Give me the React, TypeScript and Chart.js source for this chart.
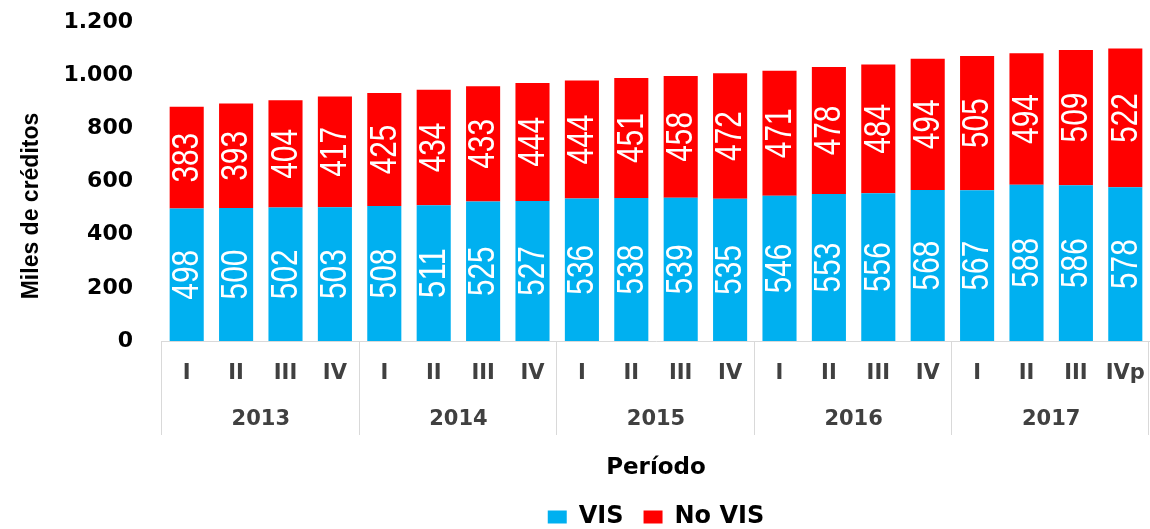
import React, { useEffect, useRef } from "react";
import { Chart, registerables } from "chart.js";

Chart.register(...registerables);

const quarters = ["I", "II", "III", "IV", "I", "II", "III", "IV", "I", "II", "III", "IV", "I", "II", "III", "IV", "I", "II", "III", "IVp"];
const years = ["2013", "2014", "2015", "2016", "2017"];
const visValues = [498, 500, 502, 503, 508, 511, 525, 527, 536, 538, 539, 535, 546, 553, 556, 568, 567, 588, 586, 578];
const noVisValues = [383, 393, 404, 417, 425, 434, 433, 444, 444, 451, 458, 472, 471, 478, 484, 494, 505, 494, 509, 522];
const seriesNames = ["VIS", "No VIS"];
const yTitle = "Miles de créditos";
const xTitle = "Período";

const AXIS_FONT = "'DejaVu Sans', Verdana, sans-serif";
const NARROW_FONT = "'Liberation Sans Narrow', 'Liberation Sans', Arial, sans-serif";
const BLUE = "#00B0F0";
const RED = "#FF0000";
const GRID = "#d9d9d9";

const fmt = (v: number) => String(v).replace(/\B(?=(\d{3})+(?!\d))/g, ".");

const barLabelPlugin = {
  id: "barLabels",
  afterDatasetsDraw(chart: any) {
    const ctx = chart.ctx;
    chart.data.datasets.forEach((ds: any, di: number) => {
      const meta = chart.getDatasetMeta(di);
      meta.data.forEach((bar: any, i: number) => {
        const { x, y, base } = bar.getProps(["x", "y", "base"], true);
        const text = String(ds.data[i]);
        const cy = (y + base) / 2;
        ctx.save();
        ctx.translate(x + 1, cy);
        ctx.rotate(-Math.PI / 2);
        ctx.font = `37px ${NARROW_FONT}`;
        const w = ctx.measureText(text).width;
        const target = text.length * 16.6;
        ctx.scale(target / w, 1);
        ctx.fillStyle = "#ffffff";
        ctx.textAlign = "center";
        ctx.textBaseline = "middle";
        ctx.fillText(text, 0, 0);
        ctx.restore();
      });
    });
  },
};

const yearPlugin = {
  id: "yearGroups",
  afterDraw(chart: any) {
    const xs = chart.scales.x;
    const area = chart.chartArea;
    const ctx = chart.ctx;
    const per = quarters.length / years.length;
    ctx.save();
    ctx.strokeStyle = GRID;
    ctx.lineWidth = 1;
    for (let k = 0; k <= years.length; k++) {
      let bx: number;
      if (k === 0) bx = area.left;
      else if (k === years.length) bx = area.right - 1;
      else bx = (xs.getPixelForValue(k * per - 1) + xs.getPixelForValue(k * per)) / 2;
      const px = Math.round(bx) - 0.5;
      ctx.beginPath();
      ctx.moveTo(px, area.bottom);
      ctx.lineTo(px, area.bottom + 94);
      ctx.stroke();
    }
    ctx.fillStyle = "#404040";
    ctx.font = `bold 21px ${AXIS_FONT}`;
    ctx.textAlign = "center";
    ctx.textBaseline = "middle";
    years.forEach((yr, k) => {
      const cx = (xs.getPixelForValue(k * per) + xs.getPixelForValue(k * per + per - 1)) / 2;
      ctx.fillText(yr, cx, area.bottom + 79);
    });
    ctx.restore();
  },
};

const yTitlePlugin = {
  id: "yTitle",
  afterDraw(chart: any) {
    const ctx = chart.ctx;
    const area = chart.chartArea;
    ctx.save();
    ctx.translate(32, area.bottom - 135);
    ctx.rotate(-Math.PI / 2);
    ctx.font = `bold 23px ${NARROW_FONT}`;
    ctx.fillStyle = "#000";
    ctx.textAlign = "center";
    ctx.textBaseline = "middle";
    ctx.fillText(yTitle, 0, 0);
    ctx.restore();
  },
};

export default function App() {
  const ref = useRef<HTMLCanvasElement | null>(null);

  useEffect(() => {
    if (!ref.current) return;
    const chart = new Chart(ref.current, {
      type: "bar",
      data: {
        labels: quarters,
        datasets: [
          { label: seriesNames[0], data: visValues, backgroundColor: BLUE, borderWidth: 0 },
          { label: seriesNames[1], data: noVisValues, backgroundColor: RED, borderWidth: 0 },
        ],
      },
      options: {
        responsive: false,
        animation: false,
        datasets: { bar: { categoryPercentage: 1, barPercentage: 0.69 } },
        layout: { padding: { top: 22, left: 0, right: 0, bottom: -10 } },
        plugins: {
          legend: {
            position: "bottom",
            fullSize: false,
            labels: {
              boxWidth: 19,
              boxHeight: 13,
              padding: 20,
              color: "#000",
              font: { family: AXIS_FONT, size: 24, weight: "bold" },
            },
          },
          tooltip: { enabled: false },
        },
        scales: {
          x: {
            stacked: true,
            afterFit: (s: any) => {
              s.height = 144;
            },
            grid: { display: false, drawTicks: true, tickLength: 17 },
            border: { display: true, color: GRID, width: 1 },
            ticks: {
              color: "#404040",
              font: { family: AXIS_FONT, size: 21, weight: "bold" },
              padding: 3,
              maxRotation: 0,
              autoSkip: false,
            },
            title: {
              display: true,
              text: xTitle,
              color: "#000",
              font: { family: AXIS_FONT, size: 23, weight: "bold" },
              padding: { top: 70, bottom: 3 },
            },
          },
          y: {
            stacked: true,
            min: 0,
            max: 1200,
            afterFit: (s: any) => {
              s.width = 162;
            },
            grid: { display: false, drawTicks: true, tickLength: 25 },
            border: { display: false },
            ticks: {
              stepSize: 200,
              color: "#000",
              font: { family: AXIS_FONT, size: 22, weight: "bold" },
              padding: 4,
              callback: (v: any) => fmt(Number(v)),
            },
            title: { display: false },
          },
        },
      },
      plugins: [barLabelPlugin, yearPlugin, yTitlePlugin],
    } as any);
    return () => chart.destroy();
  }, []);

  return (
    <div style={{ position: "absolute", left: 0, top: 0, width: 1150, height: 529, background: "#fff" }}>
      <canvas ref={ref} width={1150} height={529} />
    </div>
  );
}
